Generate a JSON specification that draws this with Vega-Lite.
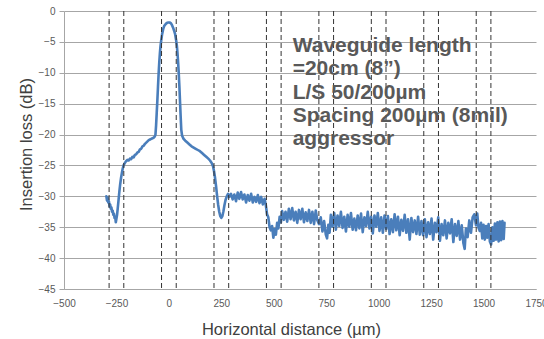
{
  "$schema": "https://vega.github.io/schema/vega-lite/v6.json",
  "autosize": "none",
  "width": 472,
  "height": 278,
  "padding": {"left": 64, "top": 11, "right": 8, "bottom": 50},
  "background": "white",
  "config": {"view": {"stroke": null}},
  "datasets": {
    "guides": [
      {"xv": -285}, {"xv": -215}, {"xv": -35}, {"xv": 35}, {"xv": 215}, {"xv": 285},
      {"xv": 465}, {"xv": 535}, {"xv": 715}, {"xv": 785}, {"xv": 965}, {"xv": 1035},
      {"xv": 1215}, {"xv": 1285}, {"xv": 1465}, {"xv": 1535}
    ],
    "note": [
      {"tx": 590, "ty": -6.6, "label": "Waveguide length\n=20cm (8”)\nL/S 50/200µm\nSpacing 200µm (8mil)\naggressor"}
    ],
    "curve": [
      {"x": -298, "y": -30.0}, {"x": -295, "y": -30.7}, {"x": -292, "y": -30.2}, {"x": -289, "y": -31.0},
      {"x": -286, "y": -30.8}, {"x": -283, "y": -31.6}, {"x": -280, "y": -31.3}, {"x": -277, "y": -32.0},
      {"x": -274, "y": -31.8}, {"x": -271, "y": -32.5}, {"x": -268, "y": -32.3}, {"x": -265, "y": -33.0},
      {"x": -262, "y": -32.8}, {"x": -259, "y": -33.5}, {"x": -256, "y": -33.3}, {"x": -253, "y": -34.2},
      {"x": -250, "y": -33.6}, {"x": -247, "y": -33.0}, {"x": -244, "y": -32.0}, {"x": -240, "y": -30.6},
      {"x": -236, "y": -29.2}, {"x": -232, "y": -28.0}, {"x": -228, "y": -27.0}, {"x": -224, "y": -26.2},
      {"x": -220, "y": -25.5}, {"x": -216, "y": -25.0}, {"x": -210, "y": -24.6}, {"x": -204, "y": -24.3},
      {"x": -198, "y": -24.1}, {"x": -192, "y": -24.2}, {"x": -186, "y": -23.9}, {"x": -180, "y": -24.0},
      {"x": -174, "y": -23.6}, {"x": -168, "y": -23.7}, {"x": -162, "y": -23.3}, {"x": -156, "y": -23.2},
      {"x": -150, "y": -22.9}, {"x": -144, "y": -22.8}, {"x": -138, "y": -22.4}, {"x": -132, "y": -22.3},
      {"x": -126, "y": -21.9}, {"x": -120, "y": -21.8}, {"x": -114, "y": -21.5}, {"x": -108, "y": -21.3},
      {"x": -102, "y": -21.1}, {"x": -96, "y": -20.9}, {"x": -90, "y": -20.8}, {"x": -84, "y": -20.7},
      {"x": -78, "y": -20.6}, {"x": -72, "y": -20.5}, {"x": -67, "y": -20.3}, {"x": -64, "y": -20.0},
      {"x": -61, "y": -18.5}, {"x": -58, "y": -16.5}, {"x": -55, "y": -14.5}, {"x": -52, "y": -12.3},
      {"x": -49, "y": -10.2}, {"x": -46, "y": -8.4}, {"x": -43, "y": -6.9}, {"x": -40, "y": -5.7},
      {"x": -36, "y": -4.6}, {"x": -32, "y": -3.7}, {"x": -27, "y": -2.9}, {"x": -22, "y": -2.4},
      {"x": -16, "y": -2.15}, {"x": -10, "y": -1.95}, {"x": -5, "y": -1.87}, {"x": 0, "y": -1.85},
      {"x": 5, "y": -1.88}, {"x": 10, "y": -2.0}, {"x": 15, "y": -2.3}, {"x": 20, "y": -2.7},
      {"x": 25, "y": -3.2}, {"x": 30, "y": -3.8}, {"x": 34, "y": -4.6}, {"x": 38, "y": -5.6},
      {"x": 41, "y": -6.8}, {"x": 44, "y": -8.3}, {"x": 47, "y": -10.1}, {"x": 50, "y": -12.2},
      {"x": 53, "y": -14.6}, {"x": 56, "y": -17.0}, {"x": 59, "y": -19.2}, {"x": 63, "y": -20.2},
      {"x": 70, "y": -20.7}, {"x": 78, "y": -21.0}, {"x": 88, "y": -21.3}, {"x": 98, "y": -21.6},
      {"x": 108, "y": -21.9}, {"x": 118, "y": -22.1}, {"x": 128, "y": -22.3}, {"x": 138, "y": -22.5},
      {"x": 148, "y": -22.7}, {"x": 158, "y": -23.0}, {"x": 168, "y": -23.3}, {"x": 178, "y": -23.6},
      {"x": 188, "y": -23.9}, {"x": 196, "y": -24.2}, {"x": 204, "y": -24.6}, {"x": 210, "y": -25.1},
      {"x": 215, "y": -25.9}, {"x": 220, "y": -27.0}, {"x": 225, "y": -28.4}, {"x": 230, "y": -30.0},
      {"x": 235, "y": -31.4}, {"x": 240, "y": -32.5}, {"x": 245, "y": -33.2}, {"x": 250, "y": -33.5},
      {"x": 255, "y": -33.2}, {"x": 260, "y": -32.4}, {"x": 265, "y": -31.4}, {"x": 270, "y": -30.6},
      {"x": 276, "y": -30.0}, {"x": 282, "y": -29.6}, {"x": 288, "y": -30.1},
      {"x": 296, "y": -29.6}, {"x": 304, "y": -30.5}, {"x": 312, "y": -29.7}, {"x": 320, "y": -30.8},
      {"x": 328, "y": -29.4}, {"x": 336, "y": -30.4}, {"x": 344, "y": -29.3}, {"x": 352, "y": -30.5},
      {"x": 360, "y": -29.7}, {"x": 368, "y": -31.0}, {"x": 376, "y": -29.8}, {"x": 384, "y": -30.7},
      {"x": 392, "y": -29.6}, {"x": 400, "y": -31.0}, {"x": 408, "y": -30.1}, {"x": 416, "y": -30.9},
      {"x": 424, "y": -29.8}, {"x": 432, "y": -31.1}, {"x": 440, "y": -30.1}, {"x": 448, "y": -31.3},
      {"x": 456, "y": -30.4}, {"x": 462, "y": -31.4}, {"x": 468, "y": -32.9}, {"x": 474, "y": -33.4},
      {"x": 480, "y": -35.0}, {"x": 486, "y": -35.5}, {"x": 492, "y": -34.8}, {"x": 498, "y": -36.7},
      {"x": 504, "y": -35.3}, {"x": 510, "y": -36.2}, {"x": 516, "y": -34.3}, {"x": 522, "y": -35.2},
      {"x": 528, "y": -33.3}, {"x": 534, "y": -34.2},
      {"x": 540, "y": -32.4}, {"x": 548, "y": -33.8}, {"x": 556, "y": -32.5}, {"x": 564, "y": -34.1},
      {"x": 572, "y": -32.0}, {"x": 580, "y": -33.7}, {"x": 588, "y": -31.9}, {"x": 596, "y": -33.9},
      {"x": 604, "y": -32.5}, {"x": 612, "y": -34.3}, {"x": 620, "y": -32.2}, {"x": 628, "y": -33.7},
      {"x": 636, "y": -32.0}, {"x": 644, "y": -34.2}, {"x": 652, "y": -32.6}, {"x": 660, "y": -34.0},
      {"x": 668, "y": -32.2}, {"x": 676, "y": -34.3}, {"x": 684, "y": -32.5}, {"x": 692, "y": -34.5},
      {"x": 700, "y": -32.3}, {"x": 708, "y": -33.9},
      {"x": 716, "y": -34.5}, {"x": 724, "y": -33.4}, {"x": 732, "y": -35.7}, {"x": 740, "y": -34.0},
      {"x": 748, "y": -36.2}, {"x": 754, "y": -36.8}, {"x": 760, "y": -34.6}, {"x": 766, "y": -35.9},
      {"x": 772, "y": -33.0}, {"x": 780, "y": -34.9}, {"x": 788, "y": -32.7}, {"x": 796, "y": -35.4},
      {"x": 804, "y": -33.1}, {"x": 812, "y": -34.8}, {"x": 820, "y": -32.5}, {"x": 828, "y": -35.1},
      {"x": 836, "y": -33.3}, {"x": 844, "y": -35.7}, {"x": 852, "y": -33.0}, {"x": 860, "y": -34.9},
      {"x": 868, "y": -32.7}, {"x": 876, "y": -35.4}, {"x": 884, "y": -33.6}, {"x": 892, "y": -35.5},
      {"x": 900, "y": -33.1}, {"x": 908, "y": -35.2}, {"x": 916, "y": -32.8}, {"x": 924, "y": -35.8},
      {"x": 932, "y": -33.4}, {"x": 940, "y": -34.8}, {"x": 948, "y": -32.5}, {"x": 956, "y": -35.2},
      {"x": 964, "y": -33.3}, {"x": 972, "y": -36.0}, {"x": 980, "y": -33.1}, {"x": 988, "y": -34.9},
      {"x": 996, "y": -32.7},
      {"x": 1004, "y": -35.6}, {"x": 1012, "y": -33.4}, {"x": 1020, "y": -35.9}, {"x": 1028, "y": -33.1},
      {"x": 1036, "y": -35.3}, {"x": 1044, "y": -33.2}, {"x": 1052, "y": -36.1}, {"x": 1060, "y": -33.7},
      {"x": 1068, "y": -35.8}, {"x": 1076, "y": -32.9}, {"x": 1084, "y": -35.5}, {"x": 1092, "y": -33.3},
      {"x": 1100, "y": -36.3}, {"x": 1108, "y": -33.8}, {"x": 1116, "y": -35.6}, {"x": 1124, "y": -33.0},
      {"x": 1132, "y": -35.9}, {"x": 1140, "y": -33.7}, {"x": 1148, "y": -37.0}, {"x": 1156, "y": -33.5},
      {"x": 1164, "y": -35.8}, {"x": 1172, "y": -33.9}, {"x": 1180, "y": -36.1}, {"x": 1188, "y": -33.3},
      {"x": 1196, "y": -36.2},
      {"x": 1204, "y": -34.0}, {"x": 1212, "y": -36.3}, {"x": 1220, "y": -33.7}, {"x": 1228, "y": -36.6},
      {"x": 1236, "y": -34.2}, {"x": 1244, "y": -36.1}, {"x": 1252, "y": -33.6}, {"x": 1260, "y": -37.0},
      {"x": 1268, "y": -34.3}, {"x": 1276, "y": -35.8}, {"x": 1284, "y": -33.4}, {"x": 1292, "y": -37.2},
      {"x": 1300, "y": -34.5}, {"x": 1308, "y": -36.3}, {"x": 1316, "y": -33.9}, {"x": 1324, "y": -36.8},
      {"x": 1332, "y": -34.3}, {"x": 1340, "y": -36.0}, {"x": 1348, "y": -33.7}, {"x": 1356, "y": -37.4},
      {"x": 1364, "y": -34.5}, {"x": 1372, "y": -36.4}, {"x": 1380, "y": -34.0}, {"x": 1388, "y": -37.0},
      {"x": 1396, "y": -34.7}, {"x": 1404, "y": -37.6}, {"x": 1410, "y": -38.5}, {"x": 1416, "y": -35.2},
      {"x": 1424, "y": -36.6}, {"x": 1432, "y": -33.9}, {"x": 1440, "y": -35.9}, {"x": 1448, "y": -33.4},
      {"x": 1456, "y": -32.9}, {"x": 1464, "y": -34.7}, {"x": 1470, "y": -32.8}, {"x": 1476, "y": -35.1},
      {"x": 1482, "y": -35.6}, {"x": 1488, "y": -34.3}, {"x": 1494, "y": -36.8}, {"x": 1500, "y": -34.6},
      {"x": 1506, "y": -37.0}, {"x": 1512, "y": -34.8}, {"x": 1518, "y": -36.7}, {"x": 1524, "y": -34.5},
      {"x": 1530, "y": -37.3}, {"x": 1536, "y": -37.8}, {"x": 1542, "y": -35.0}, {"x": 1548, "y": -37.2},
      {"x": 1554, "y": -34.4}, {"x": 1560, "y": -37.0}, {"x": 1566, "y": -34.2}, {"x": 1572, "y": -37.3},
      {"x": 1578, "y": -34.1}, {"x": 1584, "y": -37.1}, {"x": 1590, "y": -34.0}, {"x": 1596, "y": -36.9},
      {"x": 1600, "y": -34.3}
    ]
  },
  "layer": [
    {
      "data": {"name": "curve"},
      "mark": {"type": "line", "color": "#4a7ebb", "strokeWidth": 2.6, "strokeJoin": "round", "strokeCap": "round"},
      "encoding": {
        "x": {
          "field": "x", "type": "quantitative",
          "scale": {"domain": [-500, 1750], "nice": false, "zero": false},
          "axis": {
            "title": "Horizontal distance (µm)",
            "values": [-500, -250, 0, 250, 500, 750, 1000, 1250, 1500, 1750],
            "tickCount": 20,
            "format": "d",
            "grid": false, "ticks": false,
            "labelOverlap": false, "labelFlush": false,
            "domainColor": "#a6a6a6",
            "labelFont": "Liberation Sans", "labelFontSize": 10, "labelColor": "#595959", "labelPadding": 9,
            "titleFont": "Liberation Sans", "titleFontSize": 16.5, "titleFontWeight": "normal", "titleColor": "#404040",
            "titleX": 227, "titleY": 45, "titleBaseline": "alphabetic", "titleAlign": "center"
          }
        },
        "y": {
          "field": "y", "type": "quantitative",
          "scale": {"domain": [-45, 0], "nice": false, "zero": false},
          "axis": {
            "title": "Insertion loss (dB)",
            "values": [-45, -40, -35, -30, -25, -20, -15, -10, -5, 0],
            "tickCount": 20,
            "format": "d",
            "grid": true, "gridColor": "#a6a6a6", "gridOpacity": 1,
            "ticks": true, "tickSize": 5, "tickColor": "#a6a6a6",
            "labelOverlap": false, "labelFlush": false,
            "domainColor": "#a6a6a6",
            "labelFont": "Liberation Sans", "labelFontSize": 10, "labelColor": "#595959", "labelPadding": 4,
            "titleFont": "Liberation Sans", "titleFontSize": 16.5, "titleFontWeight": "normal", "titleColor": "#404040",
            "titleX": -33, "titleY": 133, "titleAngle": -90, "titleBaseline": "alphabetic", "titleAlign": "center"
          }
        }
      }
    },
    {
      "data": {"name": "guides"},
      "mark": {"type": "rule", "color": "#333333", "strokeWidth": 1, "strokeDash": [5, 3]},
      "encoding": {"x": {"field": "xv", "type": "quantitative"}}
    },
    {
      "data": {"name": "note"},
      "mark": {"type": "text", "font": "Liberation Sans", "fontWeight": "bold", "fontSize": 21, "color": "#595959", "align": "left", "baseline": "alphabetic", "lineBreak": "\n", "lineHeight": 23.4},
      "encoding": {
        "x": {"field": "tx", "type": "quantitative"},
        "y": {"field": "ty", "type": "quantitative"},
        "text": {"field": "label"}
      }
    }
  ]
}
